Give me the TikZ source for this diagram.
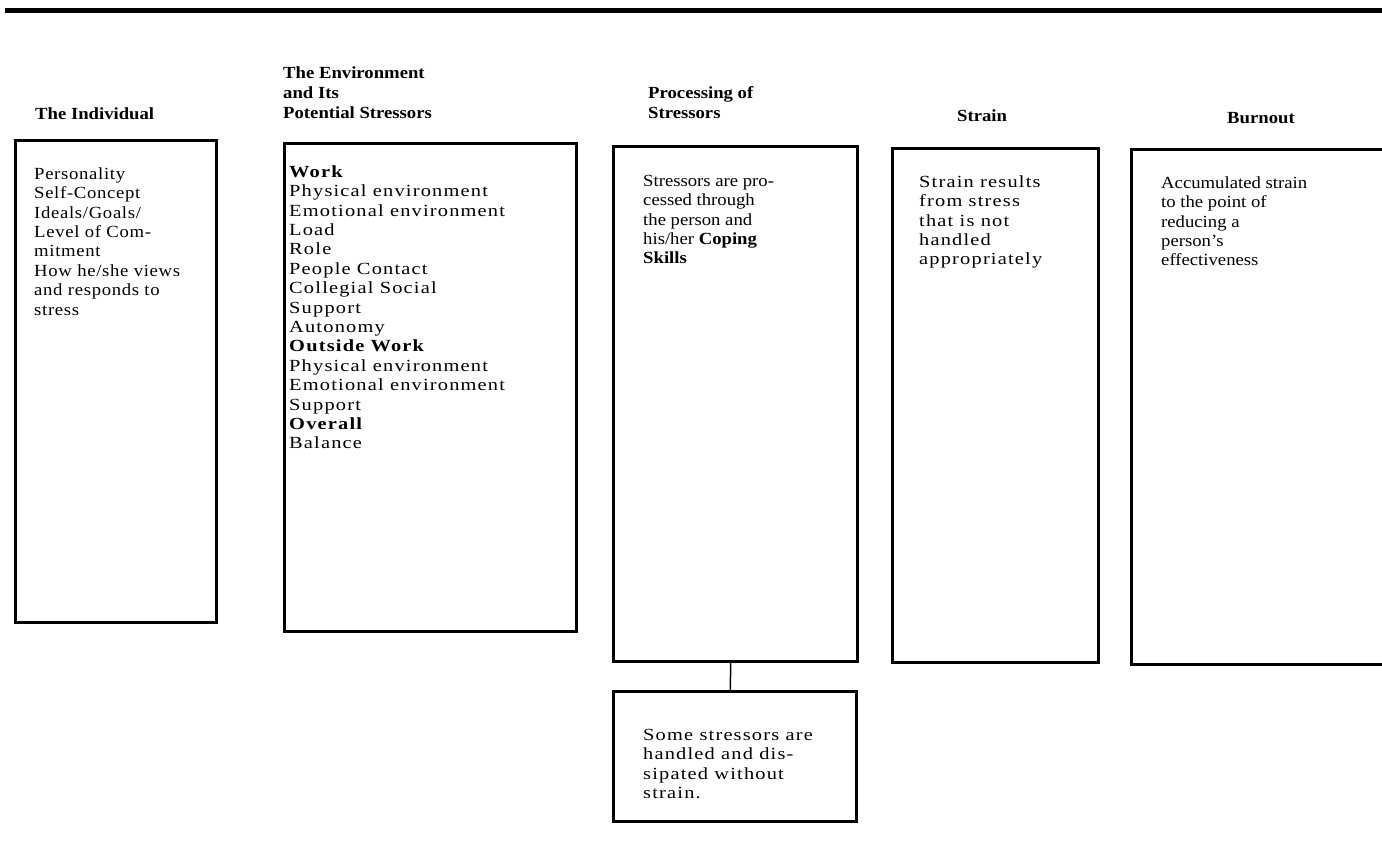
\documentclass[tikz,border=0pt]{standalone}
\usepackage{fontspec}
\setmainfont{Liberation Serif}[FakeStretch=1.1]
\newfontfamily\bodyfont{Liberation Serif}[FakeStretch=1.1,LetterSpace=4]
\newfontfamily\widefont{Liberation Serif}[FakeStretch=1.2,LetterSpace=7]
\begin{document}
\begin{tikzpicture}[x=1pt,y=-1pt,
  box/.style={draw, line width=2.5pt, inner sep=0pt, anchor=north west},
  txt/.style={anchor=north west, inner sep=0pt, align=left, font=\bodyfont\fontsize{17}{19.4}\selectfont},
  wtxt/.style={anchor=north west, inner sep=0pt, align=left, font=\widefont\fontsize{17}{19.4}\selectfont},
  ntxt/.style={anchor=north west, inner sep=0pt, align=left, font=\fontsize{17}{19.4}\selectfont},
  hdr/.style={anchor=north west, inner sep=0pt, align=left, font=\bfseries\fontsize{17}{20.2}\selectfont},
  conn/.style={draw, line width=1.5pt}]
\clip (0,0) rectangle (1382,849);
\draw[line width=5pt] (5,10) -- (1382,10);
% headers
\node[hdr] (h1) at (35,105) {\rule{0pt}{14pt}The Individual};
\node[hdr] (h2) at (283,64) {\rule{0pt}{14pt}The Environment\\and Its\\Potential Stressors};
\node[hdr] (h3) at (648,84) {\rule{0pt}{14pt}Processing of\\Stressors};
\node[hdr] (h4) at (957,107) {\rule{0pt}{14pt}Strain};
\node[hdr] (h5) at (1227,109) {\rule{0pt}{14pt}Burnout};
% boxes
\node[box, minimum width=201pt, minimum height=482pt] (b1) at (14,139) {};
\node[box, minimum width=292pt, minimum height=488pt] (b2) at (283,142) {};
\node[box, minimum width=244pt, minimum height=515pt] (b3) at (612,145) {};
\node[box, minimum width=206pt, minimum height=514pt] (b4) at (891,147) {};
\node[box, minimum width=320pt, minimum height=515pt] (b5) at (1130,148) {};
\node[box, minimum width=243pt, minimum height=130pt] (b6) at (612,690) {};
% texts
\node[txt] (t1) at (34,165) {\rule{0pt}{14pt}Personality\\Self-Concept\\Ideals/Goals/\\Level of Com-\\mitment\\How he/she views\\and responds to\\stress};
\node[wtxt] (t2) at (289,163) {\rule{0pt}{14pt}\textbf{Work}\\Physical environment\\Emotional environment\\Load\\Role\\People Contact\\Collegial Social\\Support\\Autonomy\\\textbf{Outside Work}\\Physical environment\\Emotional environment\\Support\\\textbf{Overall}\\Balance};
\node[ntxt] (t3) at (643,172) {\rule{0pt}{14pt}Stressors are pro-\\cessed through\\the person and\\his/her \textbf{Coping}\\\textbf{Skills}};
\node[wtxt] (t4) at (919,173) {\rule{0pt}{14pt}Strain results\\from stress\\that is not\\handled\\appropriately};
\node[ntxt] (t5) at (1161,174) {\rule{0pt}{14pt}Accumulated strain\\to the point of\\reducing a\\person's\\effectiveness};
\node[wtxt] (t6) at (643,726) {\rule{0pt}{14pt}Some stressors are\\handled and dis-\\sipated without\\strain.};
% connector
\draw[conn] ([xshift=-4.5pt]b3.south) -- ([xshift=-4.5pt]b6.north);
\end{tikzpicture}
\end{document}
